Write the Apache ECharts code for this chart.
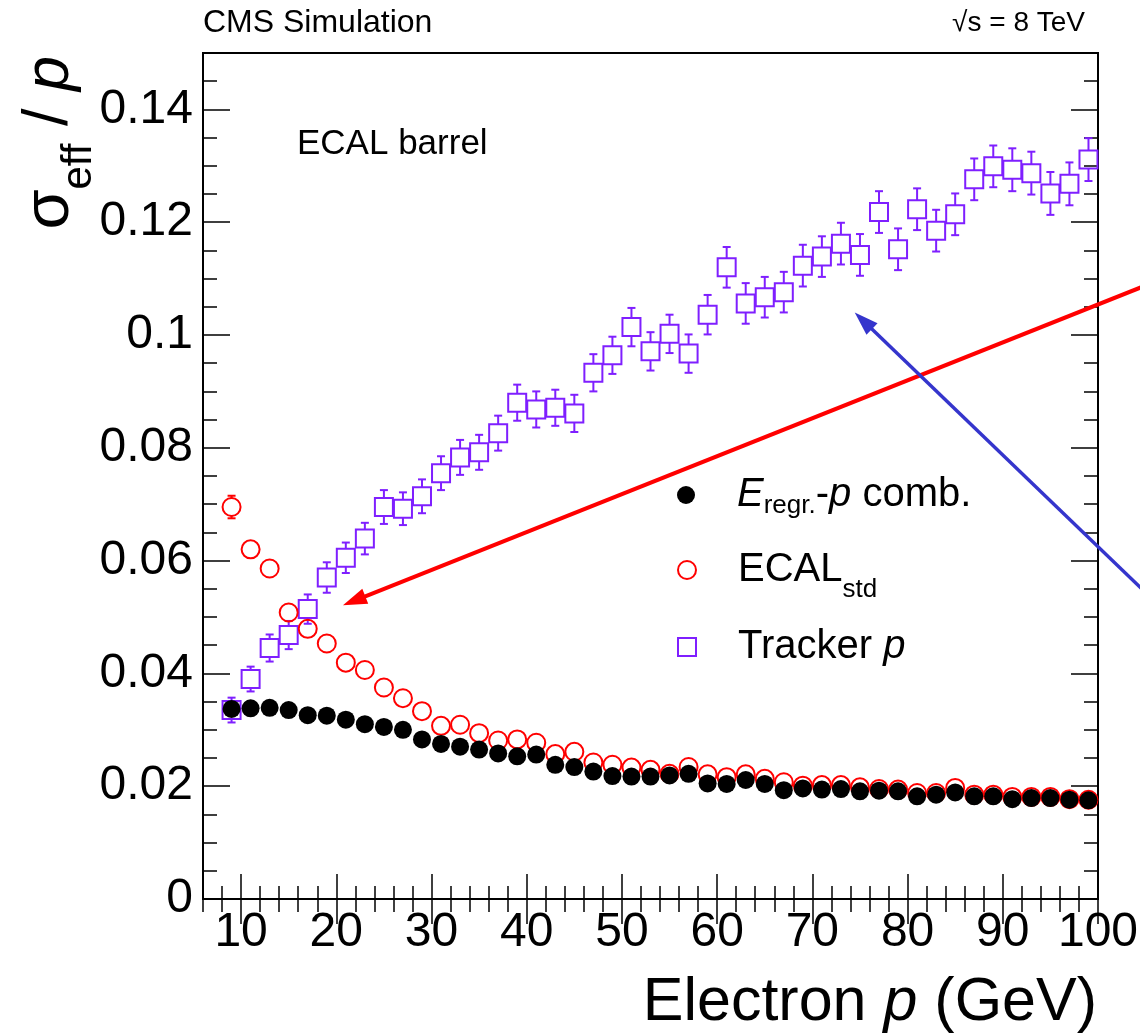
<!DOCTYPE html>
<html>
<head>
<meta charset="utf-8">
<title>sigma_eff / p vs electron p</title>
<script src="https://cdn.jsdelivr.net/npm/echarts@6/dist/echarts.min.js"></script>
<style>
  html, body { margin: 0; padding: 0; background: #fff; }
  #chart { width: 1140px; height: 1034px; }
</style>
</head>
<body>
<div id="chart"></div>
<script>
// bin centres, electron momentum (GeV)
const momentum = [9, 11, 13, 15, 17, 19, 21, 23, 25, 27, 29, 31, 33, 35, 37, 39, 41, 43, 45, 47, 49, 51, 53,
  55, 57, 59, 61, 63, 65, 67, 69, 71, 73, 75, 77, 79, 81, 83, 85, 87, 89, 91, 93, 95, 97, 99];

// E_regr.-p combination
const combRes = [0.0337, 0.0338, 0.0339, 0.0335, 0.0326, 0.0325, 0.0318, 0.0310, 0.0305, 0.0300, 0.0283, 0.0275,
  0.0270, 0.0265, 0.0258, 0.0253, 0.0256, 0.0238, 0.0234, 0.0226, 0.0218, 0.0217, 0.0217, 0.0219, 0.0222, 0.0205,
  0.0204, 0.0211, 0.0204, 0.0193, 0.0196, 0.0194, 0.0195, 0.0191, 0.0192, 0.0191, 0.0182, 0.0185, 0.0189, 0.0182,
  0.0182, 0.0177, 0.0179, 0.0179, 0.0176, 0.0175];

// ECAL std
const ecalRes = [0.0695, 0.0620, 0.0586, 0.0508, 0.0479, 0.0453, 0.0419, 0.0406, 0.0375, 0.0356, 0.0333, 0.0307,
  0.0309, 0.0294, 0.0281, 0.0283, 0.0277, 0.0257, 0.0261, 0.0242, 0.0238, 0.0233, 0.0229, 0.0222, 0.0234, 0.0221,
  0.0216, 0.0221, 0.0213, 0.0207, 0.0201, 0.0202, 0.0202, 0.0198, 0.0195, 0.0194, 0.0188, 0.0188, 0.0197, 0.0185,
  0.0185, 0.0181, 0.0181, 0.0181, 0.0177, 0.0176];
const ecalErr = [0.0020, 0.0015, 0.0012, 0.0011, 0.0010, 0.0009, 0.0009, 0.0008, 0.0008, 0.0007, 0.0007, 0.0007,
  0.0007, 0.0006, 0.0006, 0.0006, 0.0006, 0.0006, 0.0006, 0.0006, 0.0006, 0.0005, 0.0005, 0.0005, 0.0005, 0.0005,
  0.0005, 0.0005, 0.0005, 0.0005, 0.0005, 0.0005, 0.0005, 0.0005, 0.0005, 0.0005, 0.0005, 0.0005, 0.0005, 0.0005,
  0.0005, 0.0005, 0.0005, 0.0005, 0.0005, 0.0005];

// tracker p
const trackerRes = [0.0335, 0.0390, 0.0445, 0.0468, 0.0514, 0.0570, 0.0605, 0.0639, 0.0695, 0.0692, 0.0714, 0.0755,
  0.0783, 0.0792, 0.0826, 0.0880, 0.0868, 0.0871, 0.0861, 0.0933, 0.0964, 0.1014, 0.0971, 0.1002, 0.0967, 0.1036,
  0.1120, 0.1056, 0.1067, 0.1076, 0.1123, 0.1139, 0.1162, 0.1142, 0.1218, 0.1152, 0.1223, 0.1185, 0.1214, 0.1276,
  0.1299, 0.1293, 0.1287, 0.1251, 0.1268, 0.1311];
const trackerErr = [0.0022, 0.0022, 0.0024, 0.0025, 0.0026, 0.0027, 0.0027, 0.0028, 0.0030, 0.0029, 0.0030, 0.0030,
  0.0031, 0.0031, 0.0031, 0.0032, 0.0032, 0.0032, 0.0033, 0.0033, 0.0033, 0.0034, 0.0034, 0.0034, 0.0034, 0.0035,
  0.0036, 0.0036, 0.0036, 0.0036, 0.0037, 0.0036, 0.0037, 0.0037, 0.0037, 0.0037, 0.0037, 0.0037, 0.0037, 0.0037,
  0.0037, 0.0038, 0.0038, 0.0038, 0.0038, 0.0038];

const xTicks = [10, 20, 30, 40, 50, 60, 70, 80, 90, 100];
const yTicks = [0, 0.02, 0.04, 0.06, 0.08, 0.1, 0.12, 0.14];

// annotation arrows: tail (x, y) -> tip (x, y), in axis units
const redArrow = [104.6, 0.1085, 20.7, 0.0521];
const blueArrow = [106.5, 0.0519, 74.45, 0.1040];

const FONT = "'Liberation Sans', Arial, Helvetica, sans-serif";
const VIOLET = '#7f1fff';
const RED = '#ff0000';

const chart = echarts.init(document.getElementById('chart'));

// error bars, only the part sticking out of the (open) marker
function errorBars(halfMarker) {
  return function (params, api) {
    const x = api.value(0), y = api.value(1), e = api.value(2);
    const c = api.coord([x, y]);
    const hi = api.coord([x, y + e]);
    const lo = api.coord([x, y - e]);
    const style = { stroke: api.visual('color'), lineWidth: 2 };
    const cap = 4;
    const children = [];
    if (c[1] - hi[1] > halfMarker) {
      children.push({ type: 'line', shape: { x1: c[0], y1: c[1] - halfMarker, x2: hi[0], y2: hi[1] }, style });
      children.push({ type: 'line', shape: { x1: hi[0] - cap, y1: hi[1], x2: hi[0] + cap, y2: hi[1] }, style });
    }
    if (lo[1] - c[1] > halfMarker) {
      children.push({ type: 'line', shape: { x1: c[0], y1: c[1] + halfMarker, x2: lo[0], y2: lo[1] }, style });
      children.push({ type: 'line', shape: { x1: lo[0] - cap, y1: lo[1], x2: lo[0] + cap, y2: lo[1] }, style });
    }
    return { type: 'group', children };
  };
}

function arrow(width) {
  return function (params, api) {
    const a = api.coord([api.value(0), api.value(1)]);
    const b = api.coord([api.value(2), api.value(3)]);
    const dx = b[0] - a[0], dy = b[1] - a[1];
    const len = Math.sqrt(dx * dx + dy * dy);
    const ux = dx / len, uy = dy / len;
    const head = 24, half = 8;
    const bx = b[0] - ux * head, by = b[1] - uy * head;
    const color = api.visual('color');
    return {
      type: 'group',
      children: [
        { type: 'line', shape: { x1: a[0], y1: a[1], x2: bx + ux * 2, y2: by + uy * 2 }, style: { stroke: color, lineWidth: width } },
        { type: 'polygon', shape: { points: [[b[0], b[1]], [bx - uy * half, by + ux * half], [bx + uy * half, by - ux * half]] }, style: { fill: color } }
      ]
    };
  };
}

const zip = (ys, es) => momentum.map((x, i) => es ? [x, ys[i], es[i]] : [x, ys[i]]);

const tickStyle = { color: '#000', width: 1.5 };
function xAxisDef(pos, major, labels) {
  const ax = {
    type: 'value', position: pos, min: 6, max: 100,
    axisLine: { show: false }, splitLine: { show: false },
    axisTick: { inside: true, lineStyle: tickStyle },
    axisLabel: { show: false }
  };
  if (major) {
    ax.axisTick.customValues = xTicks;
    ax.axisTick.length = 25;
    ax.axisLabel = labels ? { show: true, customValues: xTicks, fontSize: 48, fontFamily: FONT, color: '#000', margin: 10 } : { show: false, customValues: xTicks };
  } else {
    ax.interval = 2;
    ax.axisTick.length = 13;
  }
  return ax;
}
function yAxisDef(pos, major, labels) {
  const ax = {
    type: 'value', position: pos, min: 0, max: 0.15,
    axisLine: { show: false }, splitLine: { show: false },
    axisTick: { inside: true, lineStyle: tickStyle },
    axisLabel: { show: false }
  };
  if (major) {
    ax.axisTick.customValues = yTicks;
    ax.axisTick.length = 27;
    ax.axisLabel = labels ? { show: true, customValues: yTicks, fontSize: 48, fontFamily: FONT, color: '#000', margin: 10 } : { show: false, customValues: yTicks };
  } else {
    ax.interval = 0.005;
    ax.axisTick.length = 14;
  }
  return ax;
}

const legendText = {
  comb: '{i|E}{s1|regr.}{n|-}{i|p}{n| comb.}',
  ecal: '{n|ECAL}{s2|std}',
  tracker: '{n|Tracker }{i|p}'
};
const legendRich = {
  n: { fontSize: 40, fontFamily: FONT, color: '#000', lineHeight: 70 },
  i: { fontSize: 40, fontFamily: FONT, fontStyle: 'italic', color: '#000', lineHeight: 70 },
  s1: { fontSize: 26, fontFamily: FONT, color: '#000', lineHeight: 26, padding: [22, 0, 0, 0] },
  s2: { fontSize: 26, fontFamily: FONT, color: '#000', lineHeight: 26, padding: [40, 0, 0, 0] }
};
const legendItems = {
  comb: { name: 'comb', icon: 'circle', itemStyle: { color: '#000', borderWidth: 0 } },
  ecal: { name: 'ecal', icon: 'circle', itemStyle: { color: 'rgba(255,255,255,0)', borderColor: RED, borderWidth: 2 } },
  tracker: { name: 'tracker', icon: 'rect', itemStyle: { color: 'rgba(255,255,255,0)', borderColor: VIOLET, borderWidth: 2 } }
};
function legendRow(name, top) {
  return {
    orient: 'vertical', left: 672, top: top,
    itemWidth: 18, itemHeight: 18, selectedMode: false,
    data: [legendItems[name]],
    formatter: n => legendText[n],
    textStyle: { padding: [0, 0, 0, 37], rich: legendRich }
  };
}

chart.setOption({
  animation: false,
  backgroundColor: '#fff',
  grid: {
    left: 203, right: 42, top: 53, bottom: 135,
    show: true, borderColor: '#000', borderWidth: 2, backgroundColor: 'transparent',
    outerBoundsMode: 'none'
  },
  xAxis: [xAxisDef('bottom', true, true), xAxisDef('bottom', false), xAxisDef('top', true, false), xAxisDef('top', false)],
  yAxis: [yAxisDef('left', true, true), yAxisDef('left', false), yAxisDef('right', true, false), yAxisDef('right', false)],
  legend: [legendRow('comb', 466), legendRow('ecal', 532), legendRow('tracker', 622)],
  graphic: [
    { type: 'text', left: 203, top: 7, style: { text: 'CMS Simulation', font: '32px ' + FONT, fill: '#000' } },
    { type: 'text', right: 55, top: 9, style: { text: '\u221As = 8 TeV', font: '28px ' + FONT, fill: '#000' } },
    { type: 'text', left: 297, top: 127, style: { text: 'ECAL barrel', font: '35px ' + FONT, fill: '#000' } },
    {
      type: 'text', x: 1097, y: 1003,
      style: {
        text: '{n|Electron }{i|p}{n| (GeV)}', align: 'right', verticalAlign: 'middle',
        rich: {
          n: { fontSize: 61, fontFamily: FONT, fill: '#000' },
          i: { fontSize: 61, fontFamily: FONT, fontStyle: 'italic', fill: '#000' }
        }
      }
    },
    {
      type: 'text', x: 50, y: 56, rotation: Math.PI / 2,
      style: {
        text: '{g|\u03C3}{s|eff}{n| / }{i|p}', align: 'right', verticalAlign: 'middle',
        rich: {
          g: { fontSize: 65, fontFamily: FONT, fill: '#000', lineHeight: 72 },
          n: { fontSize: 63, fontFamily: FONT, fill: '#000', lineHeight: 72 },
          i: { fontSize: 63, fontFamily: FONT, fontStyle: 'italic', fill: '#000', lineHeight: 72 },
          s: { fontSize: 42, fontFamily: FONT, fill: '#000', lineHeight: 42, padding: [58, 0, 0, 0] }
        }
      }
    }
  ],
  series: [
    {
      name: 'trackerErr', type: 'custom', renderItem: errorBars(9), z: 2,
      itemStyle: { color: VIOLET }, encode: { x: 0, y: 1 }, data: zip(trackerRes, trackerErr)
    },
    {
      name: 'tracker', type: 'scatter', symbol: 'rect', symbolSize: 18, z: 3,
      itemStyle: { color: 'rgba(255,255,255,0)', borderColor: VIOLET, borderWidth: 2, opacity: 1 },
      data: zip(trackerRes)
    },
    {
      name: 'ecalErr', type: 'custom', renderItem: errorBars(9), z: 4,
      itemStyle: { color: RED }, encode: { x: 0, y: 1 }, data: zip(ecalRes, ecalErr)
    },
    {
      name: 'ecal', type: 'scatter', symbol: 'circle', symbolSize: 18, z: 5,
      itemStyle: { color: 'rgba(255,255,255,0)', borderColor: RED, borderWidth: 2, opacity: 1 },
      data: zip(ecalRes)
    },
    {
      name: 'comb', type: 'scatter', symbol: 'circle', symbolSize: 18, z: 6,
      itemStyle: { color: '#000', opacity: 1 },
      data: zip(combRes)
    },
    {
      name: 'redArrow', type: 'custom', renderItem: arrow(4), z: 8, clip: false,
      itemStyle: { color: RED }, encode: { x: [0, 2], y: [1, 3] }, data: [redArrow]
    },
    {
      name: 'blueArrow', type: 'custom', renderItem: arrow(3.5), z: 8, clip: false,
      itemStyle: { color: '#3535cc' }, encode: { x: [0, 2], y: [1, 3] }, data: [blueArrow]
    }
  ]
});
</script>
</body>
</html>
